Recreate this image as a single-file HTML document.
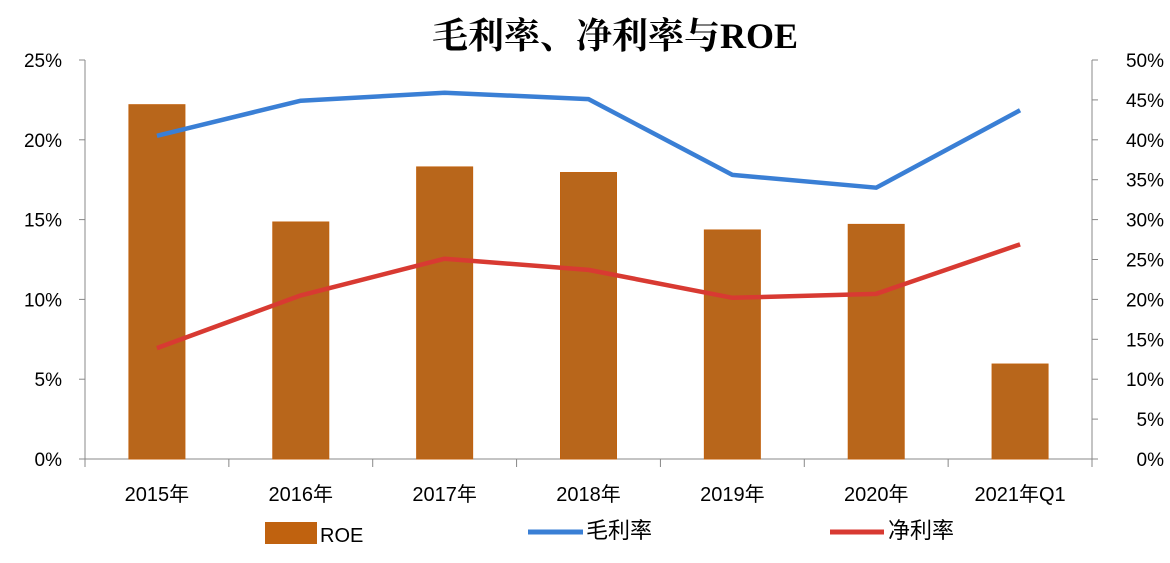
<!DOCTYPE html>
<html><head><meta charset="utf-8"><style>
body{margin:0;background:#fff}
svg text{font-family:"Liberation Sans","Noto Sans CJK SC",sans-serif}
</style></head><body>
<svg width="1170" height="558" viewBox="0 0 1170 558">
<text x="615" y="48" text-anchor="middle" font-size="36" font-weight="bold" style="font-family:'Liberation Serif','Noto Serif CJK SC',serif">毛利率、净利率与ROE</text>
<g id="axes"></g><g id="bars"></g><g id="lines"></g>
<g>
<rect x="265" y="522" width="52" height="22" fill="#c0620f"/>
<text x="320" y="542" font-size="20">ROE</text>
<line x1="528" y1="532" x2="583" y2="532" stroke="#3a7fd5" stroke-width="5"/>
<text x="586" y="538" font-size="22">毛利率</text>
<line x1="830" y1="532" x2="884" y2="532" stroke="#d83a32" stroke-width="5"/>
<text x="888" y="538" font-size="22">净利率</text>
</g>
</svg>
<script>
const categories=["2015年","2016年","2017年","2018年","2019年","2020年","2021年Q1"];
const roe=[22.2,14.85,18.3,17.95,14.35,14.7,5.95];
const grossMargin=[40.5,44.9,45.9,45.1,35.6,34.0,43.7];
const netMargin=[13.9,20.5,25.1,23.7,20.2,20.7,26.9];
const leftTicks=[0,5,10,15,20,25];
const rightTicks=[0,5,10,15,20,25,30,35,40,45,50];
const NS="http://www.w3.org/2000/svg";
const X0=85,X1=1092,Y0=459,Y1=60;
const bw=(X1-X0)/categories.length;
const xc=i=>X0+bw*(i+0.5);
const yl=v=>Y0-(v/25)*(Y0-Y1);
const yr=v=>Y0-(v/50)*(Y0-Y1);
function mk(t,a,p){const e=document.createElementNS(NS,t);for(const k in a)e.setAttribute(k,a[k]);p.appendChild(e);return e;}
const ax=document.getElementById('axes');
const la=mk('line',{x1:X0,y1:Y1,x2:X0,y2:Y0,stroke:'#888'},ax);


const ra=mk('line',{x1:X1,y1:Y1,x2:X1,y2:Y0,stroke:'#888'},ax);


const xa=mk('line',{x1:X0,y1:Y0,x2:X1,y2:Y0,stroke:'#888'},ax);


leftTicks.forEach(v=>{
 mk('line',{x1:X0-6,y1:yl(v),x2:X0,y2:yl(v),stroke:'#888'},ax);
 const t=mk('text',{x:62,y:yl(v)+7,'font-size':19,'text-anchor':'end'},ax);
 t.textContent=v+'%';
 
 
});
rightTicks.forEach(v=>{
 mk('line',{x1:X1,y1:yr(v),x2:X1+6,y2:yr(v),stroke:'#888'},ax);
 const t=mk('text',{x:1164,y:yr(v)+7,'font-size':19,'text-anchor':'end'},ax);
 t.textContent=v+'%';
 
 
});
for(let i=0;i<=categories.length;i++){mk('line',{x1:X0+bw*i,y1:Y0,x2:X0+bw*i,y2:Y0+8,stroke:'#888'},ax);}
categories.forEach((c,i)=>{
 const t=mk('text',{x:xc(i),y:501,'font-size':20,'text-anchor':'middle'},ax);
 t.textContent=c;
 
 
});
const bg=document.getElementById('bars');
roe.forEach((v,i)=>{
 const r=mk('rect',{x:xc(i)-28,y:yl(v),width:56,height:Y0-yl(v),fill:'#b8661b',stroke:'#c0620f'},bg);
 
 
});
const lg=document.getElementById('lines');
function line(vals,col,name){
 const p=mk('polyline',{points:vals.map((v,i)=>xc(i)+','+yr(v)).join(' '),fill:'none',stroke:col,'stroke-width':4.5,'stroke-linejoin':'round'},lg);
 
 
}
line(grossMargin,'#3a7fd5','gross-margin-line');
line(netMargin,'#d83a32','net-margin-line');
</script>
</body></html>
